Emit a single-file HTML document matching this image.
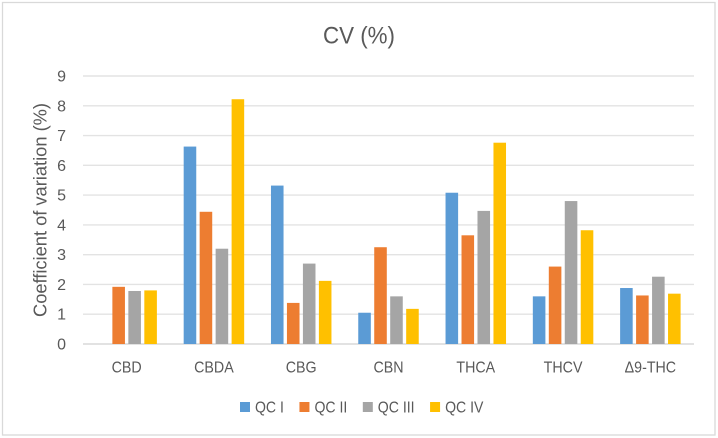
<!DOCTYPE html>
<html lang="en">
<head>
<meta charset="utf-8">
<title>CV (%)</title>
<style>
  html, body { margin: 0; padding: 0; background: #fff; }
  svg { display: block; }
  text { font-family: "Liberation Sans", "DejaVu Sans", sans-serif; fill: #595959; }
</style>
</head>
<body>
<svg id="chart" xmlns="http://www.w3.org/2000/svg" width="718" height="438" viewBox="0 0 718 438">
  <rect x="2.5" y="2.5" width="712.5" height="432.5" fill="#fff" stroke="#d9d9d9" stroke-width="1.3"/>
  <text x="359" y="43.5" font-size="24.5" text-anchor="middle" textLength="72" lengthAdjust="spacingAndGlyphs">CV (%)</text>
  <text transform="translate(46.5 210) rotate(-90)" font-size="18" text-anchor="middle" textLength="214" lengthAdjust="spacingAndGlyphs">Coefficient of variation (%)</text>
  <g id="grid"></g>
  <g id="bars"></g>
  <g id="yticks"></g>
  <g id="xticks"></g>
  <g id="legend"></g>
</svg>
<script>
const categories = ['CBD', 'CBDA', 'CBG', 'CBN', 'THCA', 'THCV', 'Δ9-THC'];
const seriesNames = ['QC I', 'QC II', 'QC III', 'QC IV'];
const seriesColors = ['#5b9bd5', '#ed7d31', '#a5a5a5', '#ffc000'];
const qc1 = [0, 6.63, 5.32, 1.05, 5.08, 1.6, 1.88];
const qc2 = [1.92, 4.44, 1.38, 3.25, 3.65, 2.6, 1.63];
const qc3 = [1.78, 3.2, 2.7, 1.6, 4.47, 4.8, 2.26];
const qc4 = [1.8, 8.22, 2.12, 1.18, 6.76, 3.82, 1.69];
const yTicks = [0, 1, 2, 3, 4, 5, 6, 7, 8, 9];

const seriesValues = [qc1, qc2, qc3, qc4];
const NS = 'http://www.w3.org/2000/svg';
const plot = { left: 83, right: 694, top: 76, bottom: 344 };
const yMax = 9;
const band = (plot.right - plot.left) / categories.length;
const barWidth = band * 0.144;
const barStep = band * 0.183;

function yScale(v) {
  return plot.bottom - (v / yMax) * (plot.bottom - plot.top);
}
function xScale(catIndex, seriesIndex) {
  const center = plot.left + band * (catIndex + 0.5);
  const n = seriesValues.length;
  return center + (seriesIndex - (n - 1) / 2) * barStep - barWidth / 2;
}
function make(tag, attrs, parent) {
  const el = document.createElementNS(NS, tag);
  for (const k in attrs) el.setAttribute(k, attrs[k]);
  parent.appendChild(el);
  return el;
}
function squeeze(el, factor) {
  const w = el.getComputedTextLength();
  el.setAttribute('textLength', (w * factor).toFixed(1));
  el.setAttribute('lengthAdjust', 'spacingAndGlyphs');
  return w * factor;
}

const gridG = document.getElementById('grid');
const barsG = document.getElementById('bars');
const yG = document.getElementById('yticks');
const xG = document.getElementById('xticks');
const legendG = document.getElementById('legend');

yTicks.forEach(function (t) {
  const line = make('line', { x1: plot.left, x2: plot.right, y1: yScale(t), y2: yScale(t), stroke: t === 0 ? '#d9d9d9' : '#e3e3e3', 'stroke-width': 1.4 }, gridG);
  
  
  const label = make('text', { x: 66, y: yScale(t) + 5.5, 'font-size': 16, 'text-anchor': 'end' }, yG);
  label.textContent = t;
  
  
});

seriesValues.forEach(function (values, s) {
  values.forEach(function (v, c) {
    const rect = make('rect', { x: xScale(c, s), y: yScale(v), width: barWidth, height: plot.bottom - yScale(v), fill: seriesColors[s] }, barsG);
    
    
  });
});

categories.forEach(function (name, c) {
  const label = make('text', { x: plot.left + band * (c + 0.5), y: 372.5, 'font-size': 16, 'text-anchor': 'middle' }, xG);
  label.textContent = name;
  
  
  squeeze(label, 0.89);
});

let legendX = 240;
seriesNames.forEach(function (name, s) {
  const swatch = make('rect', { x: legendX, y: 402, width: 10, height: 10, fill: seriesColors[s] }, legendG);
  
  
  const label = make('text', { x: legendX + 15, y: 412.5, 'font-size': 16 }, legendG);
  label.textContent = name;
  
  
  const w = squeeze(label, 0.88);
  legendX += 15 + w + 15.5;
});
</script>
</body>
</html>
